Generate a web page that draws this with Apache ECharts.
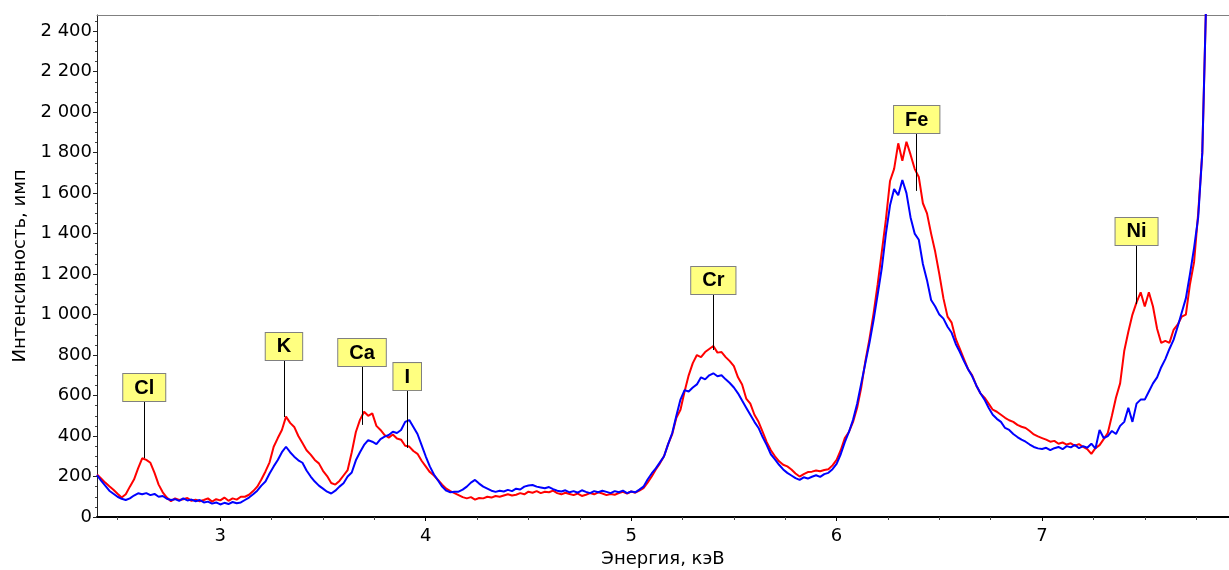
<!DOCTYPE html>
<html>
<head>
<meta charset="utf-8">
<title>Спектр</title>
<style>
  html, body { margin: 0; padding: 0; background: #fff; }
  #chart { width: 1229px; height: 570px; }
</style>
<script src="https://cdn.jsdelivr.net/npm/echarts@6/dist/echarts.min.js"></script>
</head>
<body>
<div id="chart"></div>
<script>
// энергетическая шкала: каналы по 0.02 кэВ начиная с 2.40
var energyStart = 2.4;
var energyStep = 0.02;

// красный спектр, имп (2.40 ... 7.80 кэВ)
var redCounts = [
  210, 190, 170, 152, 135, 115, 96, 112, 150, 185,
  240, 290, 282, 268, 218, 160, 122, 96, 78, 92,
  84, 88, 94, 80, 86, 78, 84, 92, 76, 88,
  82, 96, 80, 92, 86, 100, 100, 110, 128, 150,
  185, 225, 270, 347, 390, 430, 496, 465, 445, 400,
  365, 330, 308, 282, 265, 228, 202, 168, 160, 178,
  205, 232, 320, 420, 480, 520, 500, 512, 450, 430,
  405, 392, 408, 388, 382, 352, 348, 326, 312, 278,
  250, 222, 205, 183, 160, 140, 128, 118, 108, 98,
  92, 98, 86, 94, 92, 100, 96, 104, 100, 106,
  112, 106, 110, 118, 112, 125, 120, 128, 118, 125,
  122, 130, 118, 112, 120, 114, 108, 116, 104, 110,
  118, 112, 122, 116, 108, 114, 110, 118, 124, 116,
  126, 120, 130, 142, 170, 200, 235, 265, 300, 360,
  410, 490, 530, 620, 700, 760, 800, 790, 815, 830,
  845, 812, 815, 790, 770, 745, 690, 655, 585, 560,
  505, 470, 420, 370, 330, 300, 275, 258, 250, 235,
  215, 200, 212, 222, 224, 230, 226, 232, 236, 255,
  282, 330, 390, 420, 470, 540, 640, 770, 880, 1006,
  1150, 1310, 1470, 1660, 1720, 1846, 1760, 1854, 1790, 1720,
  1680, 1550, 1500, 1400, 1310, 1200, 1080, 990, 960, 880,
  830, 780, 730, 700, 650, 611, 590, 560, 530, 520,
  505, 490, 478, 470, 455, 446, 440, 425, 408, 398,
  390, 382, 372, 376, 362, 368, 358, 364, 352, 360,
  346, 335, 312, 340, 355, 385, 415, 500, 590, 660,
  820, 915, 1000, 1060, 1110, 1040, 1110, 1040, 930, 860,
  870, 860, 924, 950, 990, 1000, 1150, 1260, 1500, 1800,
  2600
];

// синий спектр, имп
var blueCounts = [
  207, 180, 155, 130, 115, 100, 90, 84, 92, 106,
  117, 112, 118, 108, 114, 100, 104, 90, 84, 88,
  80, 92, 82, 86, 78, 84, 72, 76, 66, 72,
  62, 70, 64, 74, 68, 72, 84, 96, 112, 130,
  155, 175, 215, 250, 282, 320, 347, 320, 298, 280,
  268, 230, 200, 175, 155, 140, 125, 116, 130, 150,
  167, 200, 220, 280, 320, 356, 380, 372, 360, 385,
  397, 405, 421, 415, 430, 470, 479, 445, 410, 355,
  300, 250, 210, 180, 150, 130, 122, 125, 125, 135,
  150, 170, 183, 165, 150, 140, 130, 124, 130, 126,
  134, 128, 140, 136, 150, 156, 158, 150, 146, 142,
  148, 138, 130, 126, 132, 122, 128, 120, 132, 124,
  118, 128, 122, 130, 124, 118, 128, 122, 130, 118,
  126, 122, 135, 150, 185, 215, 240, 270, 300, 360,
  415, 500, 580, 627, 620, 640, 655, 690, 680, 700,
  710, 695, 700, 680, 662, 640, 611, 575, 540, 505,
  470, 440, 395, 355, 310, 285, 258, 235, 218, 205,
  192, 183, 196, 190, 199, 206, 198, 212, 218, 236,
  262, 310, 370, 420, 480, 560, 660, 760, 860, 973,
  1100, 1230, 1400, 1540, 1620, 1590, 1665, 1600, 1480, 1400,
  1370, 1250, 1170, 1072, 1040, 1000, 980, 940, 910, 855,
  815, 770, 730, 695, 650, 611, 580, 540, 505, 485,
  470, 440, 430, 410, 395, 382, 372, 358, 346, 339,
  336, 342, 330, 340, 346, 335, 350, 344, 356, 340,
  350, 342, 362, 338, 430, 390, 400, 425, 410, 450,
  470, 540, 470, 560, 580, 580, 620, 660, 690, 740,
  780, 830, 875, 940, 1010, 1080, 1200, 1330, 1480, 1800,
  2600
];

// метки пиков
var peakNames = ["Cl", "K", "Ca", "I", "Cr", "Fe", "Ni"];
var peakEnergy = [2.63, 3.31, 3.69, 3.91, 5.40, 6.39, 7.46];
var peakLineFrom = [291, 494, 455, 341, 825, 1611, 1052];
var peakLineTo = [573, 776, 746, 627, 1102, 1897, 1344];

// оси
var xMin = 2.4, xMax = 7.91;
var yMin = 0, yMax = 2480;
var xTicks = [3, 4, 5, 6, 7];
var xMinorTicks = [2.5, 2.75, 3.25, 3.5, 3.75, 4.25, 4.5, 4.75, 5.25, 5.5, 5.75,
  6.25, 6.5, 6.75, 7.25, 7.5, 7.75];
var yTicks = [0, 200, 400, 600, 800, 1000, 1200, 1400, 1600, 1800, 2000, 2200, 2400];
var yMinorTicks = [];
for (var t = 50; t < yMax; t += 50) {
  if (t % 200 !== 0) yMinorTicks.push(t);
}

var FONT = "DejaVu Sans";

function toPairs(counts) {
  return counts.map(function (v, i) {
    return [+(energyStart + i * energyStep).toFixed(2), v];
  });
}

function fmtThousands(v) {
  if (v >= 1000) {
    var r = String(v % 1000);
    while (r.length < 3) r = "0" + r;
    return Math.floor(v / 1000) + " " + r;
  }
  return String(v);
}

var dom = document.getElementById("chart");
var myChart = echarts.init(dom, null, { renderer: "canvas" });

var option = {
  animation: false,
  backgroundColor: "#fff",
  grid: { left: 97, right: 0, top: 15, bottom: 53, outerBoundsMode: "none" },
  xAxis: [
    {
      type: "value",
      min: xMin,
      max: xMax,
      position: "bottom",
      axisLine: { show: true, onZero: false, lineStyle: { color: "#000", width: 2 } },
      axisTick: { show: true, customValues: xTicks, length: 4, lineStyle: { color: "#000" } },
      axisLabel: { customValues: xTicks, margin: 10, fontSize: 18, color: "#000", fontFamily: FONT },
      splitLine: { show: false },
      name: "Энергия, кэВ",
      nameLocation: "middle",
      nameGap: 33,
      nameTextStyle: { fontSize: 18, color: "#000", fontFamily: FONT }
    },
    {
      type: "value",
      min: xMin,
      max: xMax,
      position: "bottom",
      axisLine: { show: false, onZero: false },
      axisTick: { show: true, customValues: xMinorTicks, length: 3, lineStyle: { color: "#444" } },
      axisLabel: { show: false },
      splitLine: { show: false }
    },
    {
      type: "value",
      min: xMin,
      max: xMax,
      position: "top",
      axisLine: { show: true, onZero: false, lineStyle: { color: "#808080", width: 1 } },
      axisTick: { show: false },
      axisLabel: { show: false },
      splitLine: { show: false }
    }
  ],
  yAxis: [
    {
      type: "value",
      min: yMin,
      max: yMax,
      position: "left",
      axisLine: { show: true, onZero: false, lineStyle: { color: "#222", width: 1 } },
      axisTick: { show: true, customValues: yTicks, length: 4, lineStyle: { color: "#222" } },
      axisLabel: {
        customValues: yTicks,
        margin: 5,
        fontSize: 18,
        color: "#000",
        fontFamily: FONT,
        formatter: fmtThousands
      },
      splitLine: { show: false },
      name: "Интенсивность, имп",
      nameLocation: "middle",
      nameGap: 66,
      nameTextStyle: { fontSize: 18, color: "#000", fontFamily: FONT }
    },
    {
      type: "value",
      min: yMin,
      max: yMax,
      position: "left",
      axisLine: { show: false, onZero: false },
      axisTick: { show: true, customValues: yMinorTicks, length: 2, lineStyle: { color: "#444" } },
      axisLabel: { show: false },
      splitLine: { show: false }
    }
  ],
  series: [
    {
      type: "line",
      data: toPairs(redCounts),
      symbol: "none",
      sampling: "none",
      lineStyle: { color: "#FF0000", width: 2 },
      itemStyle: { color: "#FF0000" },
      z: 2
    },
    {
      type: "line",
      data: toPairs(blueCounts),
      symbol: "none",
      sampling: "none",
      lineStyle: { color: "#0000FF", width: 2 },
      itemStyle: { color: "#0000FF" },
      z: 3
    },
    {
      type: "line",
      data: [],
      z: 5,
      markLine: {
        silent: true,
        symbol: "none",
        animation: false,
        emphasis: { disabled: true },
        lineStyle: { color: "#000", width: 1, type: "solid" },
        label: {
          show: true,
          position: "end",
          distance: 0,
          formatter: "{b}",
          color: "#000",
          fontFamily: "Liberation Sans",
          fontWeight: "bold",
          fontSize: 20,
          lineHeight: 20,
          backgroundColor: "#FFFF80",
          borderColor: "#808080",
          borderWidth: 1,
          padding: [4, 11, 3, 11]
        },
        data: peakNames.map(function (n, i) {
          return [
            { name: n, coord: [peakEnergy[i], peakLineFrom[i]] },
            { name: n, coord: [peakEnergy[i], peakLineTo[i]] }
          ];
        })
      }
    }
  ]
};

myChart.setOption(option);
window.addEventListener("resize", myChart.resize);
</script>
</body>
</html>
